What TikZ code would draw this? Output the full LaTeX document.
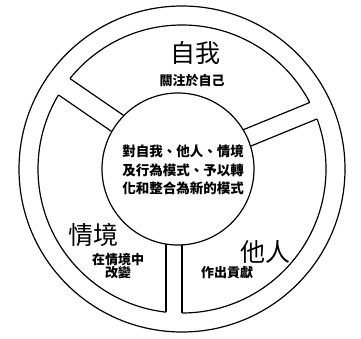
\documentclass[tikz,border=0pt]{standalone}
\usepackage{fontspec}
\newfontfamily\cjk{Noto Sans CJK TC}
\begin{document}
\begin{tikzpicture}[x=1pt,y=1pt,line width=1.2pt,
  title/.style={font=\cjk\fontsize{25}{27}\selectfont, inner sep=0pt},
  sub/.style={font=\cjk\bfseries\fontsize{13}{13.5}\selectfont, inner sep=0pt, align=center},
  core/.style={font=\cjk\bfseries\fontsize{13.5}{18.5}\selectfont, inner sep=0pt, align=center}]
\useasboundingbox (0,0) rectangle (361,338);
\fill[white] (0,0) rectangle (361,338);
\coordinate (C) at (182,169);
\draw (C) circle (163);
\draw (C) circle (144);
\foreach \px/\py/\ang/\w in {181/171/145.5/10, 181/173/22.3/9, 174/169/270/8}{
  \begin{scope}[shift={(\px,\py)}, rotate=\ang]
    \fill[white] (40,-\w) rectangle (152,\w);
  \end{scope}
  \begin{scope}
    \clip (C) circle (144);
    \begin{scope}[shift={(\px,\py)}, rotate=\ang]
      \draw (0,-\w) -- (170,-\w);
      \draw (0,\w) -- (170,\w);
    \end{scope}
  \end{scope}
}
\node[draw, fill=white, circle, minimum size=152pt, inner sep=0pt] (core) at (178,169) {};
\node[core] (coretext) at (183,168) {對自我、他人、情境\\及行為模式、予以轉\\化和整合為新的模式};
\node[title] (self) at (195,285) {自我};
\node[sub] (selfsub) at (192,257) {關注於自己};
\node[title] (situ) at (93,103) {情境};
\node[sub] (situsub) at (118,72) {在情境中\\改變};
\node[title] (other) at (265,86) {他人};
\node[sub] (othersub) at (227,65) {作出貢獻};
\end{tikzpicture}
\end{document}
